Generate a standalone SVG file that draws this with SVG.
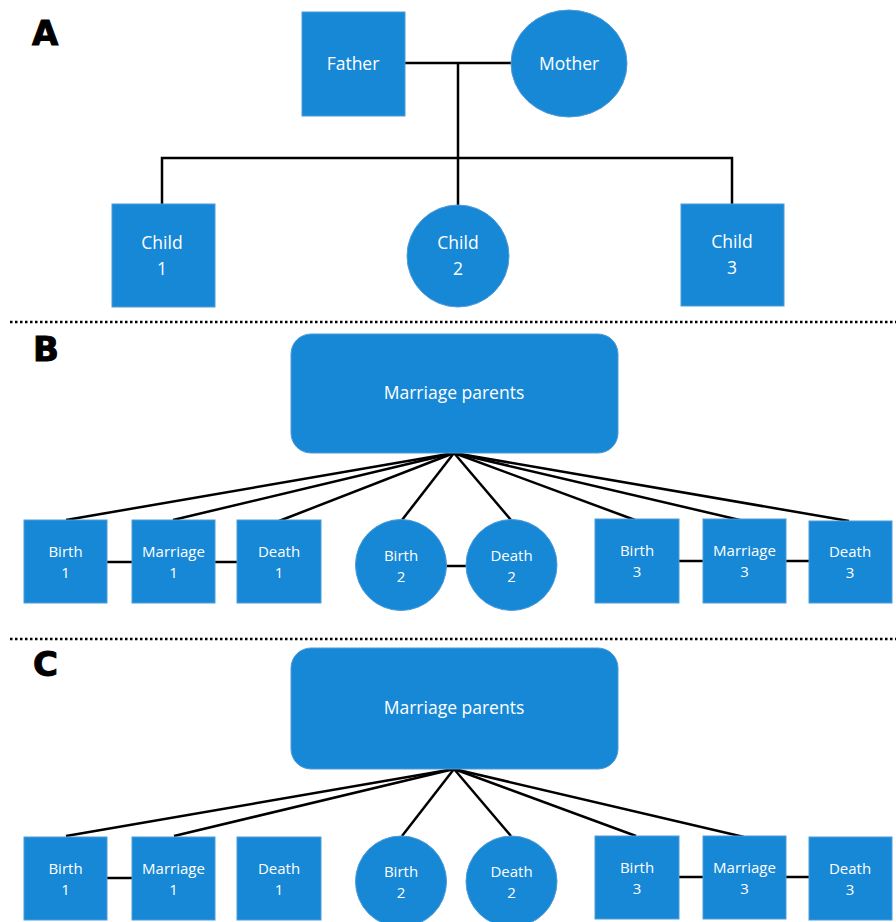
<svg xmlns="http://www.w3.org/2000/svg" width="896" height="922" viewBox="0 0 896 922">
<style>
.n{fill:#1788d6;stroke:#4f9bd8;stroke-width:1}
.t{font-family:"Open Sans","Noto Sans",sans-serif;fill:#fff;text-anchor:middle}
.big{font-size:17.5px}
.sm{font-size:15px}
.lbl{font-family:"DejaVu Sans","Liberation Sans",sans-serif;font-weight:bold;font-size:34px;fill:#000;stroke:#000;stroke-width:1}
.c line,.c path{stroke:#000;stroke-width:2.5;fill:none}
.dot{stroke:#000;stroke-width:2.5;stroke-dasharray:2.5 2.5}
</style>
<rect width="896" height="922" fill="#fff"/>
<text class="lbl" x="32" y="45">A</text>
<text class="lbl" x="33" y="361">B</text>
<text class="lbl" x="33" y="676">C</text>
<line class="dot" x1="10" y1="322" x2="896" y2="322"/>
<line class="dot" x1="10" y1="639" x2="896" y2="639"/>
<g class="c" id="connectors">
<line x1="405" y1="63" x2="511" y2="63"/>
<line x1="458" y1="63" x2="458" y2="205"/>
<path d="M162 204 V158 H732 V204"/>
<g id="fanB">
<line x1="454" y1="453" x2="66" y2="520"/>
<line x1="454" y1="453" x2="173" y2="520"/>
<line x1="454" y1="453" x2="279" y2="521"/>
<line x1="454" y1="453" x2="402" y2="520"/>
<line x1="454" y1="453" x2="511" y2="520"/>
<line x1="454" y1="453" x2="635" y2="520"/>
<line x1="454" y1="453" x2="744" y2="521"/>
<line x1="454" y1="453" x2="849" y2="521"/>
<line x1="107" y1="562" x2="132" y2="562"/>
<line x1="215" y1="562" x2="237" y2="562"/>
<line x1="446" y1="566" x2="466" y2="566"/>
<line x1="679" y1="561" x2="703" y2="561"/>
<line x1="786" y1="561" x2="809" y2="561"/>
</g>
<g id="fanC">
<line x1="454" y1="769" x2="66" y2="836"/>
<line x1="454" y1="769" x2="174" y2="836"/>
<line x1="454" y1="769" x2="402" y2="836"/>
<line x1="454" y1="769" x2="511" y2="836"/>
<line x1="454" y1="769" x2="636" y2="836"/>
<line x1="454" y1="769" x2="744" y2="837"/>
<line x1="107" y1="878" x2="132" y2="878"/>
<line x1="679" y1="877" x2="703" y2="877"/>
<line x1="786" y1="877" x2="809" y2="877"/>
</g>
</g>
<g id="father"><rect class="n" x="302" y="12" width="103" height="104"/><text class="t big" x="353" y="70">Father</text></g>
<g id="mother"><ellipse class="n" cx="569" cy="63.5" rx="58" ry="53.5"/><text class="t big" x="569" y="70">Mother</text></g>
<g id="child1"><rect class="n" x="112" y="204" width="103" height="103"/><text class="t big" x="162" y="249">Child</text><text class="t big" x="162" y="275">1</text></g>
<g id="child2"><circle class="n" cx="458" cy="256" r="51"/><text class="t big" x="458" y="249">Child</text><text class="t big" x="458" y="275">2</text></g>
<g id="child3"><rect class="n" x="681" y="204" width="103" height="102"/><text class="t big" x="732" y="248">Child</text><text class="t big" x="732" y="274">3</text></g>

<g id="mpB"><rect class="n" x="291" y="334" width="327" height="119" rx="20"/><text class="t big" x="454" y="399">Marriage parents</text></g>
<g id="b1B"><rect class="n" x="24" y="520" width="83" height="83"/><text class="t sm" x="65.5" y="557">Birth</text><text class="t sm" x="65.5" y="578">1</text></g>
<g id="m1B"><rect class="n" x="132" y="520" width="83" height="83"/><text class="t sm" x="173.5" y="557">Marriage</text><text class="t sm" x="173.5" y="578">1</text></g>
<g id="d1B"><rect class="n" x="237" y="520" width="84" height="83"/><text class="t sm" x="279" y="557">Death</text><text class="t sm" x="279" y="578">1</text></g>
<g id="b2B"><circle class="n" cx="401" cy="565" r="45.5"/><text class="t sm" x="401" y="561">Birth</text><text class="t sm" x="401" y="582">2</text></g>
<g id="d2B"><circle class="n" cx="511.5" cy="565" r="45.5"/><text class="t sm" x="511.5" y="561">Death</text><text class="t sm" x="511.5" y="582">2</text></g>
<g id="b3B"><rect class="n" x="595" y="519" width="84" height="84"/><text class="t sm" x="637" y="556">Birth</text><text class="t sm" x="637" y="577">3</text></g>
<g id="m3B"><rect class="n" x="703" y="519" width="83" height="84"/><text class="t sm" x="744.5" y="556">Marriage</text><text class="t sm" x="744.5" y="577">3</text></g>
<g id="d3B"><rect class="n" x="809" y="521" width="83" height="82"/><text class="t sm" x="850" y="557">Death</text><text class="t sm" x="850" y="578">3</text></g>

<g id="mpC"><rect class="n" x="291" y="648" width="327" height="121" rx="20"/><text class="t big" x="454" y="714">Marriage parents</text></g>
<g id="b1C"><rect class="n" x="24" y="837" width="83" height="83"/><text class="t sm" x="65.5" y="874">Birth</text><text class="t sm" x="65.5" y="895">1</text></g>
<g id="m1C"><rect class="n" x="132" y="837" width="83" height="83"/><text class="t sm" x="173.5" y="874">Marriage</text><text class="t sm" x="173.5" y="895">1</text></g>
<g id="d1C"><rect class="n" x="237" y="837" width="84" height="83"/><text class="t sm" x="279" y="874">Death</text><text class="t sm" x="279" y="895">1</text></g>
<g id="b2C"><circle class="n" cx="401" cy="881.5" r="45.5"/><text class="t sm" x="401" y="877">Birth</text><text class="t sm" x="401" y="898">2</text></g>
<g id="d2C"><circle class="n" cx="511.5" cy="881.5" r="45.5"/><text class="t sm" x="511.5" y="877">Death</text><text class="t sm" x="511.5" y="898">2</text></g>
<g id="b3C"><rect class="n" x="595" y="836" width="84" height="83"/><text class="t sm" x="637" y="873">Birth</text><text class="t sm" x="637" y="894">3</text></g>
<g id="m3C"><rect class="n" x="703" y="836" width="83" height="83"/><text class="t sm" x="744.5" y="873">Marriage</text><text class="t sm" x="744.5" y="894">3</text></g>
<g id="d3C"><rect class="n" x="809" y="837" width="83" height="83"/><text class="t sm" x="850" y="874">Death</text><text class="t sm" x="850" y="895">3</text></g>
</svg>
